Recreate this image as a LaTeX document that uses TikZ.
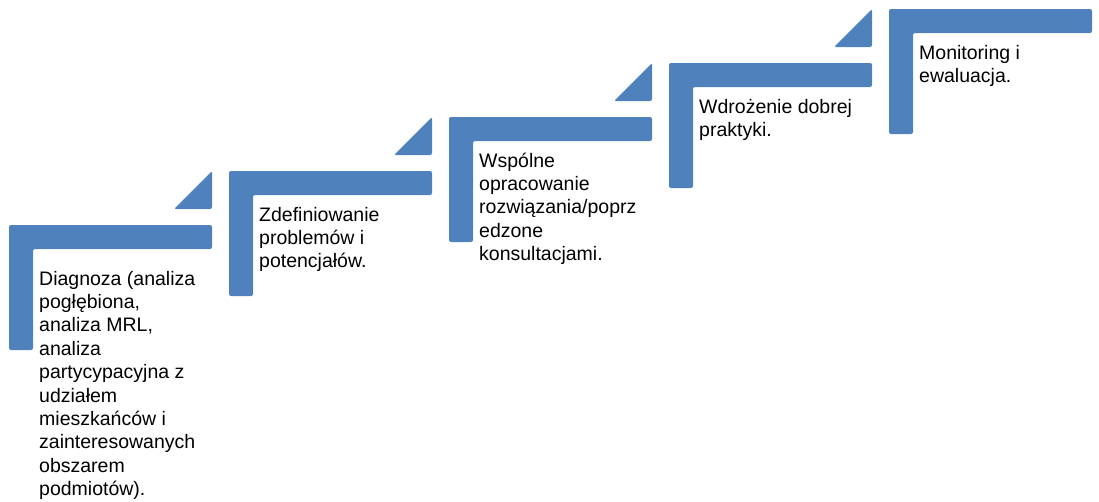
\documentclass[tikz,border=0pt]{standalone}
\usepackage{fontspec}
\setmainfont{Liberation Sans}
\definecolor{stepblue}{HTML}{4F81BD}
\tikzset{
  stepshape/.style={fill=stepblue, draw=none, rounded corners=2pt},
  steptext/.style={anchor=base west, inner sep=0pt, font=\fontsize{19.5}{23.4}\selectfont, text=black}
}
\newcommand{\stepL}[2]{%
  \fill[stepshape] (#1,#2) -- (#1+203,#2) -- (#1+203,#2+24) -- (#1+24,#2+24) -- (#1+24,#2+125) -- (#1,#2+125) -- cycle;}
\newcommand{\stepTri}[2]{%
  \fill[stepshape] (#1+165,#2-16) -- (#1+203,#2-16) -- (#1+203,#2-54) -- cycle;}
\begin{document}
\begin{tikzpicture}[x=1pt,y=-1pt]
\useasboundingbox (0,0) rectangle (1099,501);
\stepL{9}{225}\stepTri{9}{225}
\stepL{229}{171}\stepTri{229}{171}
\stepL{449}{117}\stepTri{449}{117}
\stepL{669}{63}\stepTri{669}{63}
\stepL{889}{9}
\node[steptext] (t1) at (39,285) {\parbox[t]{200pt}{\raggedright Diagnoza (analiza\\pogłębiona,\\analiza MRL,\\analiza\\partycypacyjna z\\udziałem\\mieszkańców i\\zainteresowanych\\obszarem\\podmiotów).}};
\node[steptext] (t2) at (259,221) {\parbox[t]{200pt}{\raggedright Zdefiniowanie\\problemów i\\potencjałów.}};
\node[steptext] (t3) at (479,167) {\parbox[t]{200pt}{\raggedright Wspólne\\opracowanie\\rozwiązania/poprz\\edzone\\konsultacjami.}};
\node[steptext] (t4) at (699,113) {\parbox[t]{200pt}{\raggedright Wdrożenie dobrej\\praktyki.}};
\node[steptext] (t5) at (919,59) {\parbox[t]{200pt}{\raggedright Monitoring i\\ewaluacja.}};
\end{tikzpicture}
\end{document}
